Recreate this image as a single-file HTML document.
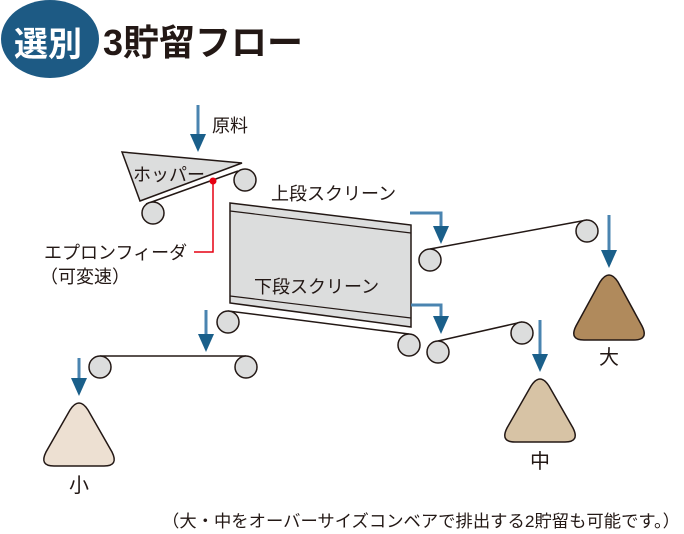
<!DOCTYPE html>
<html><head><meta charset="utf-8"><style>
html,body{margin:0;padding:0;background:#fff;}
svg{display:block;}
text{font-family:"Liberation Sans","Noto Sans CJK JP",sans-serif;fill:#231815;}
</style></head><body>
<svg width="684" height="534" viewBox="0 0 684 534" xmlns="http://www.w3.org/2000/svg">
<defs>
<g id="ah"><polygon points="-8,-18 8,-18 0,0" fill="#1a5f8a"/></g>
</defs>
<!-- title -->
<ellipse cx="50" cy="39" rx="49" ry="39" fill="#1d5a84"/>
<text x="14" y="56" font-size="34" style="fill:#fff" font-weight="bold">選別</text>
<text x="103" y="55" font-size="36" font-weight="bold">3貯留フロー</text>

<!-- raw material arrow -->
<line x1="198" y1="105" x2="198" y2="140" stroke="#4a84b0" stroke-width="3"/>
<use href="#ah" x="198" y="152"/>
<text x="212" y="132" font-size="18">原料</text>

<!-- hopper -->
<polygon points="122,152 242,163 140,201" fill="#dcdddd" stroke="#231815" stroke-width="1.5"/>
<text x="133" y="181" font-size="18">ホッパー</text>
<line x1="146" y1="204" x2="238" y2="171" stroke="#231815" stroke-width="1.5"/>
<circle cx="153" cy="213" r="11" fill="#dcdddd" stroke="#231815" stroke-width="1.5"/>
<circle cx="245" cy="180" r="11" fill="#dcdddd" stroke="#231815" stroke-width="1.5"/>
<polyline points="213,181 213,252 194,252" fill="none" stroke="#e60012" stroke-width="1.5"/>
<circle cx="213" cy="181" r="3.5" fill="#e60012"/>
<text x="44" y="259" font-size="18">エプロンフィーダ</text>
<text x="40" y="283" font-size="18">（可変速）</text>

<!-- screen -->
<polygon points="230,203 411,225 411,327 230,303" fill="#dcdddd" stroke="#231815" stroke-width="1.5"/>
<line x1="230" y1="211" x2="411" y2="233" stroke="#231815" stroke-width="1.2"/>
<line x1="230" y1="296" x2="411" y2="318" stroke="#231815" stroke-width="1.2"/>
<text x="271" y="200" font-size="18">上段スクリーン</text>
<text x="254" y="293" font-size="18">下段スクリーン</text>

<!-- upper conveyor -->
<polyline points="410,213 441,213 441,228" fill="none" stroke="#4a84b0" stroke-width="3"/>
<use href="#ah" x="441" y="244"/>
<line x1="430" y1="249" x2="587" y2="220" stroke="#231815" stroke-width="1.5"/>
<circle cx="430" cy="260" r="11" fill="#dcdddd" stroke="#231815" stroke-width="1.5"/>
<circle cx="587" cy="231" r="11" fill="#dcdddd" stroke="#231815" stroke-width="1.5"/>
<line x1="609" y1="215" x2="609" y2="252" stroke="#4a84b0" stroke-width="3"/>
<use href="#ah" x="609" y="268"/>
<path d="M600,282 Q609,268 618,282 L642,326 Q649,340 634,340 L584,340 Q569,340 576,326 Z" fill="#b08a5c" stroke="#231815" stroke-width="1.5"/>
<text x="609" y="364" font-size="20" text-anchor="middle">大</text>

<!-- lower conveyor from screen -->
<polyline points="411,305 441,305 441,318" fill="none" stroke="#4a84b0" stroke-width="3"/>
<use href="#ah" x="441" y="334"/>
<line x1="228" y1="311" x2="409" y2="334" stroke="#231815" stroke-width="1.5"/>
<circle cx="228" cy="322" r="11" fill="#dcdddd" stroke="#231815" stroke-width="1.5"/>
<circle cx="409" cy="345" r="11" fill="#dcdddd" stroke="#231815" stroke-width="1.5"/>
<line x1="438" y1="341" x2="522" y2="322" stroke="#231815" stroke-width="1.5"/>
<circle cx="438" cy="352" r="11" fill="#dcdddd" stroke="#231815" stroke-width="1.5"/>
<circle cx="522" cy="333" r="11" fill="#dcdddd" stroke="#231815" stroke-width="1.5"/>
<line x1="540" y1="320" x2="540" y2="356" stroke="#4a84b0" stroke-width="3"/>
<use href="#ah" x="540" y="372"/>
<path d="M531,386 Q540,372 549,386 L573,428 Q580,442 565,442 L515,442 Q500,442 507,428 Z" fill="#d7c3a5" stroke="#231815" stroke-width="1.5"/>
<text x="540" y="468" font-size="20" text-anchor="middle">中</text>

<!-- small conveyor -->
<line x1="206" y1="310" x2="206" y2="338" stroke="#4a84b0" stroke-width="3"/>
<use href="#ah" x="206" y="352"/>
<line x1="100" y1="356" x2="246" y2="356" stroke="#231815" stroke-width="1.5"/>
<circle cx="100" cy="367" r="11" fill="#dcdddd" stroke="#231815" stroke-width="1.5"/>
<circle cx="246" cy="367" r="11" fill="#dcdddd" stroke="#231815" stroke-width="1.5"/>
<line x1="79" y1="358" x2="79" y2="381" stroke="#4a84b0" stroke-width="3"/>
<use href="#ah" x="79" y="396"/>
<path d="M70,410 Q79,396 88,410 L112,452 Q119,466 104,466 L54,466 Q39,466 46,452 Z" fill="#ede0d2" stroke="#231815" stroke-width="1.5"/>
<text x="79" y="492" font-size="20" text-anchor="middle">小</text>

<text x="162" y="527" font-size="17" textLength="518" lengthAdjust="spacingAndGlyphs">（大・中をオーバーサイズコンベアで排出する2貯留も可能です。）</text>
</svg>
</body></html>
